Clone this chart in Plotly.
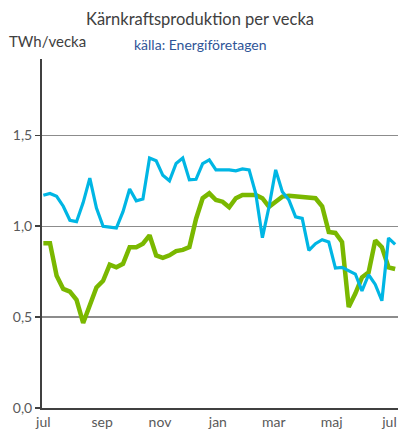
import plotly.graph_objects as go
import pandas as pd

# Weekly nuclear production, TWh/week (54 weeks starting early July)
weeks = pd.date_range("2021-07-01", periods=54, freq="7D")

blue_values = [1.17, 1.18, 1.165, 1.11, 1.033, 1.025, 1.13, 1.265, 1.10, 1.00,
               0.995, 0.99, 1.08, 1.205, 1.14, 1.15, 1.375, 1.36, 1.28, 1.25,
               1.345, 1.375, 1.255, 1.258, 1.345, 1.365, 1.31, 1.31, 1.31, 1.305,
               1.315, 1.31, 1.18, 0.937, 1.107, 1.31, 1.19, 1.144, 1.052, 1.043,
               0.867, 0.904, 0.926, 0.913, 0.77, 0.774, 0.756, 0.737, 0.644, 0.733,
               0.68, 0.59, 0.935, 0.900]

green_values = [0.907, 0.907, 0.728, 0.655, 0.64, 0.595, 0.468, 0.57, 0.663, 0.70,
                0.789, 0.774, 0.793, 0.885, 0.885, 0.904, 0.95, 0.839, 0.826, 0.84,
                0.863, 0.87, 0.885, 1.04, 1.154, 1.181, 1.144, 1.135, 1.104, 1.154,
                1.172, 1.172, 1.172, 1.154, 1.107, 1.135, 1.163, 1.167, 1.163, 1.163,
                1.159, 1.154, 1.11, 0.968, 0.963, 0.913, 0.556, 0.63, 0.719, 0.746,
                0.922, 0.885, 0.774, 0.765]

tick_dates = ["2021-07-01", "2021-09-01", "2021-11-01", "2022-01-01",
              "2022-03-01", "2022-05-01", "2022-07-01"]
tick_labels = ["jul", "sep", "nov", "jan", "mar", "maj", "jul"]

y_ticks = [0.0, 0.5, 1.0, 1.5]

FONT = "Lato"

fig = go.Figure()
fig.add_trace(go.Scatter(x=weeks, y=green_values, mode="lines",
                         line=dict(color="#7AB800", width=4.5),
                         showlegend=False, hoverinfo="skip"))
fig.add_trace(go.Scatter(x=weeks, y=blue_values, mode="lines",
                         line=dict(color="#00B6E4", width=3.2),
                         showlegend=False, hoverinfo="skip"))

fig.update_layout(
    width=402, height=434,
    margin=dict(l=42, r=4, t=59, b=26),
    paper_bgcolor="white", plot_bgcolor="white",
    separators=",.",
    hovermode=False,
    font=dict(family=FONT, color="#595959", size=13),
    xaxis=dict(
        range=["2021-06-29 14:00", "2022-07-10"],
        tickvals=tick_dates, ticktext=tick_labels,
        showgrid=False, zeroline=False,
        showline=True, linecolor="#404040", linewidth=2,
        ticks="", tickfont=dict(size=14, color="#595959"),
    ),
    yaxis=dict(
        range=[0, 1.92],
        tickvals=y_ticks, tickformat=".1f",
        showgrid=True, gridcolor="#8C8C8C", gridwidth=1.3,
        zeroline=False,
        showline=True, linecolor="#404040", linewidth=2,
        ticks="outside", ticklen=5, tickcolor="#404040", tickwidth=1.5,
        tickfont=dict(size=14, color="#595959"),
    ),
    annotations=[
        dict(text="Kärnkraftsproduktion per vecka", xref="paper", yref="paper",
             x=(200 - 42) / 356, y=(408 - 19) / 349, xanchor="center", yanchor="middle",
             showarrow=False, font=dict(family=FONT, size=16.5, color="#404040")),
        dict(text="TWh/vecka", xref="paper", yref="paper",
             x=(7 - 42) / 356, y=(408 - 41) / 349, xanchor="left", yanchor="middle",
             showarrow=False, font=dict(family=FONT, size=15, color="#404040")),
        dict(text="källa: Energiföretagen", xref="paper", yref="paper",
             x=(132 - 42) / 356, y=(408 - 44) / 349, xanchor="left", yanchor="middle",
             showarrow=False, font=dict(family=FONT, size=14, color="#2F5597")),
    ],
)

# remove the default page margin so the figure fills the window exactly
fig.write_html(
    "out.html",
    config={"displayModeBar": False, "staticPlot": True},
    post_script="document.body.style.margin='0';document.body.style.overflow='hidden';",
)
